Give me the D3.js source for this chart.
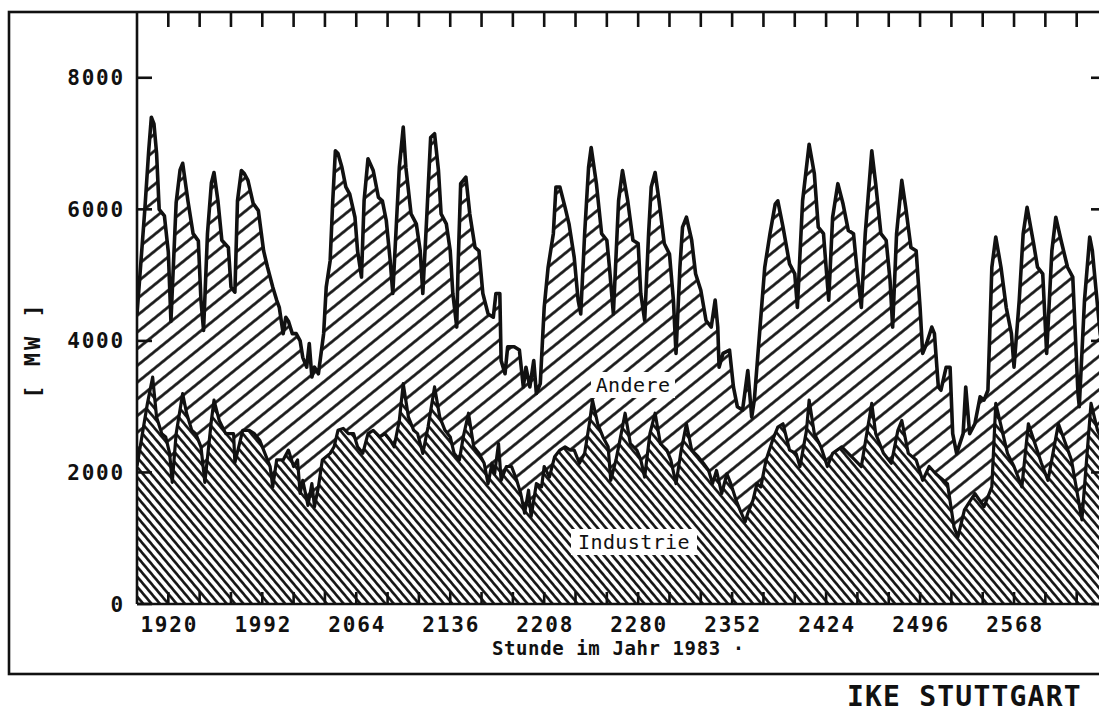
<!DOCTYPE html>
<html>
<head>
<meta charset="utf-8">
<script src="https://cdn.jsdelivr.net/npm/d3@7"></script>
<style>
  body { margin: 0; background: #fff; }
  text { font-family: "DejaVu Sans Mono", monospace; fill: #111; }
</style>
</head>
<body>
<svg id="chart" width="1099" height="713"></svg>
<script>
// Gesamtlast (Industrie + Andere), [Stunde, MW]
const gesamt = [
  [1896, 4400], [1899, 5200], [1902, 6000], [1905, 6900], [1907, 7400], [1909, 7300], [1911, 6850],
  [1913, 6000], [1917, 5900], [1920, 5350], [1922, 4300],
  [1926, 6100], [1929, 6600], [1931, 6700], [1935, 6130], [1939, 5630], [1943, 5520], [1945, 4620], [1947, 4160],
  [1950, 5630], [1953, 6400], [1955, 6560], [1958, 6130], [1961, 5530], [1966, 5420], [1968, 4820], [1971, 4740],
  [1973, 6130], [1976, 6590], [1978, 6550], [1981, 6440], [1985, 6090], [1989, 5980], [1993, 5370], [1996, 5120],
  [2000, 4820], [2003, 4620], [2005, 4510], [2008, 4110], [2010, 4360], [2012, 4300], [2015, 4110], [2018, 4110],
  [2021, 4000], [2023, 3750], [2026, 3600], [2028, 3960], [2030, 3450], [2032, 3600], [2035, 3500],
  [2039, 4110], [2041, 4820], [2044, 5220], [2046, 6130], [2048, 6890], [2050, 6850], [2053, 6640], [2056, 6340],
  [2059, 6230], [2063, 5880], [2065, 5370], [2068, 4970],
  [2070, 6130], [2073, 6770], [2077, 6590], [2081, 6180], [2084, 6130], [2087, 5830], [2090, 5220], [2092, 4720],
  [2095, 5880], [2097, 6640], [2100, 7250], [2102, 6640], [2106, 5930], [2110, 5780], [2113, 5370], [2115, 4720],
  [2118, 5880], [2121, 7090], [2124, 7150], [2127, 6590], [2129, 5930], [2133, 5780], [2136, 5370], [2138, 4720], [2141, 4210],
  [2142, 5120], [2144, 6390], [2148, 6490], [2151, 5930], [2155, 5420], [2158, 5370], [2161, 4720], [2165, 4410],
  [2169, 4360], [2171, 4720], [2174, 4720], [2175, 3700], [2178, 3500], [2180, 3910], [2185, 3910], [2189, 3860],
  [2192, 3300], [2194, 3600], [2197, 3300], [2200, 3700], [2202, 3200], [2205, 3350],
  [2208, 4510], [2211, 5120], [2215, 5630], [2217, 6340], [2220, 6340], [2224, 6030], [2227, 5780], [2231, 5270],
  [2234, 4620], [2236, 4410],
  [2239, 5630], [2242, 6640], [2244, 6940], [2248, 6390], [2252, 5630], [2256, 5530], [2258, 5120], [2261, 4410],
  [2265, 6130], [2268, 6590], [2272, 6130], [2276, 5530], [2280, 5480], [2282, 4720], [2285, 4310],
  [2288, 5630], [2290, 6340], [2293, 6560], [2296, 6130], [2300, 5480], [2304, 5320], [2307, 4620], [2309, 3810],
  [2312, 5120], [2314, 5730], [2317, 5880], [2321, 5530], [2324, 5020], [2328, 4770], [2332, 4310], [2336, 4210],
  [2339, 4620], [2341, 4210], [2342, 3600], [2345, 3810], [2350, 3860], [2353, 3300], [2356, 3000], [2360, 2950],
  [2364, 3550], [2367, 2840], [2369, 3100],
  [2373, 4110], [2377, 5120], [2381, 5630], [2385, 6080], [2387, 6130], [2391, 5730], [2396, 5170], [2400, 5020], [2402, 4510],
  [2406, 6130], [2411, 6990], [2415, 6540], [2418, 5730], [2422, 5630], [2424, 5120], [2426, 4620],
  [2429, 5880], [2433, 6390], [2437, 6080], [2441, 5680], [2445, 5630], [2448, 5020], [2451, 4510],
  [2454, 5630], [2459, 6890], [2462, 6390], [2466, 5630], [2470, 5530], [2473, 4920], [2475, 4210],
  [2478, 5630], [2482, 6440], [2485, 6030], [2489, 5420], [2493, 5370], [2496, 4510], [2498, 3810], [2501, 3960],
  [2505, 4210], [2507, 4110], [2510, 3300], [2512, 3250], [2516, 3600], [2519, 3600], [2521, 2590], [2524, 2290],
  [2529, 2590], [2531, 3300], [2534, 2590], [2538, 2740], [2542, 3150], [2545, 3100], [2548, 3250],
  [2551, 5120], [2554, 5580], [2558, 5120], [2562, 4510], [2566, 4110], [2568, 3600],
  [2572, 4620], [2575, 5630], [2578, 6030], [2583, 5480], [2586, 5120], [2590, 5020], [2593, 3810],
  [2597, 5370], [2600, 5880], [2604, 5530], [2609, 5120], [2613, 4970], [2617, 3200], [2618, 3000],
  [2622, 4620], [2626, 5580], [2628, 5370], [2634, 4110], [2640, 3500]
];

// Industrie, [Stunde, MW]
const industrie = [
  [1896, 2100], [1904, 3050], [1908, 3450], [1911, 2840], [1915, 2590], [1918, 2540], [1921, 2290], [1923, 1850],
  [1926, 2590], [1931, 3200], [1934, 2900], [1938, 2640], [1941, 2590], [1945, 2390], [1948, 1850],
  [1953, 2790], [1955, 3100], [1959, 2790], [1964, 2590], [1970, 2590], [1971, 2150],
  [1977, 2640], [1982, 2640], [1986, 2590], [1990, 2490], [1994, 2290], [1998, 2090], [2000, 1780], [2003, 2190],
  [2008, 2190], [2012, 2340], [2016, 2090], [2019, 2190], [2021, 1680], [2023, 1880], [2027, 1500], [2030, 1830],
  [2032, 1480], [2035, 1780], [2038, 2190], [2044, 2290], [2047, 2390], [2050, 2640], [2054, 2670], [2058, 2590],
  [2062, 2590], [2065, 2390], [2069, 2290], [2073, 2590], [2077, 2640], [2082, 2540], [2086, 2590], [2090, 2490],
  [2093, 2390], [2097, 2790], [2100, 3350], [2104, 2840], [2108, 2640], [2111, 2590], [2115, 2290], [2119, 2690],
  [2124, 3300], [2128, 2840], [2132, 2640], [2136, 2540], [2139, 2290], [2143, 2190], [2146, 2540], [2150, 2900],
  [2154, 2390], [2158, 2290], [2162, 2140], [2165, 1830], [2168, 2140], [2170, 1980], [2173, 2440], [2175, 1880],
  [2179, 2090], [2183, 2090], [2187, 1880], [2190, 1680], [2193, 1380], [2196, 1730], [2198, 1330], [2202, 1830],
  [2206, 1780], [2208, 2090], [2212, 1930], [2216, 2240], [2220, 2340], [2224, 2390], [2228, 2340], [2231, 2340],
  [2235, 2140], [2239, 2290], [2243, 2790], [2245, 3100], [2249, 2740], [2253, 2540], [2257, 2390], [2259, 1880],
  [2263, 2190], [2267, 2590], [2270, 2900], [2274, 2440], [2279, 2340], [2282, 2190], [2285, 1930],
  [2289, 2590], [2293, 2900], [2297, 2440], [2302, 2340], [2305, 2190], [2309, 1830],
  [2313, 2340], [2317, 2740], [2321, 2340], [2326, 2240], [2330, 2140], [2334, 2030], [2337, 1830], [2340, 2030],
  [2344, 1680], [2348, 1980], [2351, 1830], [2355, 1580], [2358, 1430], [2362, 1250], [2364, 1380], [2368, 1580],
  [2371, 1830], [2374, 1780], [2378, 2190], [2383, 2490], [2387, 2690], [2391, 2740], [2396, 2340], [2401, 2290],
  [2404, 2090], [2409, 2640], [2411, 3100], [2415, 2590], [2420, 2390], [2425, 2090], [2429, 2290], [2436, 2390],
  [2441, 2290], [2446, 2190], [2451, 2090], [2456, 2690], [2459, 3050], [2462, 2590], [2468, 2290], [2474, 2140],
  [2479, 2640], [2482, 2790], [2487, 2290], [2493, 2190], [2498, 1880], [2503, 2090], [2508, 1980], [2517, 1830],
  [2522, 1170], [2525, 1020], [2530, 1430], [2538, 1680], [2545, 1480], [2551, 1780], [2554, 3050], [2563, 2290],
  [2568, 2090], [2574, 1780], [2579, 2740], [2589, 2140], [2594, 1880], [2602, 2740], [2612, 2190], [2620, 1280],
  [2627, 3050], [2632, 2640], [2640, 2300]
];

const stundenTicks = [1920, 1992, 2064, 2136, 2208, 2280, 2352, 2424, 2496, 2568];
const mwTicks = [0, 2000, 4000, 6000, 8000];
const stundenBereich = [1896, 2640];
const mwBereich = [0, 9000];

const svg = d3.select("#chart");

const plotLeft = 137, plotRight = 1108, plotTop = 12, plotBottom = 604;

const x = d3.scaleLinear().domain(stundenBereich).range([plotLeft, plotRight]);
const y = d3.scaleLinear().domain(mwBereich).range([plotBottom, plotTop]);

const defs = svg.append("defs");

// Schraffur "Andere": weite Linien /
const pA = defs.append("pattern").attr("id", "hatchAndere")
    .attr("patternUnits", "userSpaceOnUse")
    .attr("width", 13).attr("height", 13)
    .attr("patternTransform", "rotate(-39)");
pA.append("rect").attr("width", 13).attr("height", 13).attr("fill", "#fff");
pA.append("line").attr("x1", 0).attr("x2", 13).attr("y1", 6.5).attr("y2", 6.5)
    .attr("stroke", "#111").attr("stroke-width", 2.7);

// Schraffur "Industrie": dichte Linien \
const pI = defs.append("pattern").attr("id", "hatchIndustrie")
    .attr("patternUnits", "userSpaceOnUse")
    .attr("width", 6.4).attr("height", 6.4)
    .attr("patternTransform", "rotate(50)");
pI.append("rect").attr("width", 6.4).attr("height", 6.4).attr("fill", "#fff");
pI.append("line").attr("x1", 0).attr("x2", 6.4).attr("y1", 3.2).attr("y2", 3.2)
    .attr("stroke", "#111").attr("stroke-width", 2.6);

defs.append("clipPath").attr("id", "plotClip")
  .append("rect").attr("x", plotLeft).attr("y", plotTop)
  .attr("width", plotRight - plotLeft).attr("height", plotBottom - plotTop);

const plot = svg.append("g").attr("clip-path", "url(#plotClip)");

const area = d3.area().x(d => x(d[0])).y0(y(0)).y1(d => y(d[1]));
const line = d3.line().x(d => x(d[0])).y(d => y(d[1]));

plot.append("path").datum(gesamt).attr("d", area).attr("fill", "url(#hatchAndere)");
plot.append("path").datum(industrie).attr("d", area).attr("fill", "url(#hatchIndustrie)");

plot.append("path").datum(gesamt).attr("d", line)
    .attr("fill", "none").attr("stroke", "#111").attr("stroke-width", 3.6)
    .attr("stroke-linejoin", "round");
plot.append("path").datum(industrie).attr("d", line)
    .attr("fill", "none").attr("stroke", "#111").attr("stroke-width", 3.2)
    .attr("stroke-linejoin", "round");

// Achsen
const axes = svg.append("g").attr("stroke", "#111").attr("stroke-width", 2.6).attr("fill", "none");
axes.append("line").attr("x1", plotLeft).attr("x2", plotLeft).attr("y1", plotTop).attr("y2", plotBottom);
axes.append("line").attr("x1", plotLeft).attr("x2", plotRight).attr("y1", plotBottom).attr("y2", plotBottom);

const tagesTicks = d3.range(1920, 2640, 24);
axes.selectAll(".tt").data(tagesTicks).enter().append("line")
    .attr("x1", d => x(d)).attr("x2", d => x(d)).attr("y1", plotTop).attr("y2", plotTop + 15);
axes.selectAll(".bt").data(tagesTicks).enter().append("line")
    .attr("x1", d => x(d)).attr("x2", d => x(d)).attr("y1", plotBottom).attr("y2", plotBottom - 12);
axes.selectAll(".lt").data(mwTicks).enter().append("line")
    .attr("x1", plotLeft).attr("x2", plotLeft + 15).attr("y1", d => y(d)).attr("y2", d => y(d));
axes.selectAll(".rt").data(mwTicks).enter().append("line")
    .attr("x1", plotRight - 17).attr("x2", plotRight).attr("y1", d => y(d)).attr("y2", d => y(d));

// Beschriftung
svg.selectAll(".ylab").data(mwTicks).enter().append("text")
    .attr("x", 125).attr("y", d => y(d) + 7.5)
    .attr("text-anchor", "end")
    .style("font-size", "21px").style("font-weight", "bold").style("letter-spacing", "1.8px")
    .text(d => d);

svg.selectAll(".xlab").data(stundenTicks).enter().append("text")
    .attr("x", d => x(d) + 1).attr("y", 632)
    .attr("text-anchor", "middle")
    .style("font-size", "21px").style("font-weight", "bold").style("letter-spacing", "1.8px")
    .text(d => d);

svg.append("text").attr("x", 492).attr("y", 655)
    .style("font-size", "19px").style("font-weight", "bold").style("letter-spacing", "0.6px")
    .text("Stunde im Jahr 1983 ·");

svg.append("text").attr("transform", "translate(40,350) rotate(-90)")
    .attr("text-anchor", "middle")
    .style("font-size", "22px").style("font-weight", "bold").style("letter-spacing", "3px")
    .text("[ MW ]");

// Flächenbeschriftungen mit weissem Grund
function flaechenLabel(text, cx, cy, w) {
  svg.append("rect").attr("x", cx - w / 2).attr("y", cy - 13).attr("width", w).attr("height", 26).attr("fill", "#fff");
  svg.append("text").attr("x", cx).attr("y", cy + 7).attr("text-anchor", "middle")
      .style("font-size", "20px").style("letter-spacing", "0.4px").text(text);
}
flaechenLabel("Andere", 633, 385, 84);
flaechenLabel("Industrie", 634, 542, 126);

// Rahmen
svg.append("rect").attr("x", 9).attr("y", plotTop).attr("width", 1130).attr("height", 674 - plotTop)
    .attr("fill", "none").attr("stroke", "#111").attr("stroke-width", 2.6);

svg.append("text").attr("x", 847).attr("y", 706)
    .style("font-size", "28px").style("font-weight", "bold").style("letter-spacing", "1.2px")
    .text("IKE STUTTGART");
</script>
</body>
</html>
